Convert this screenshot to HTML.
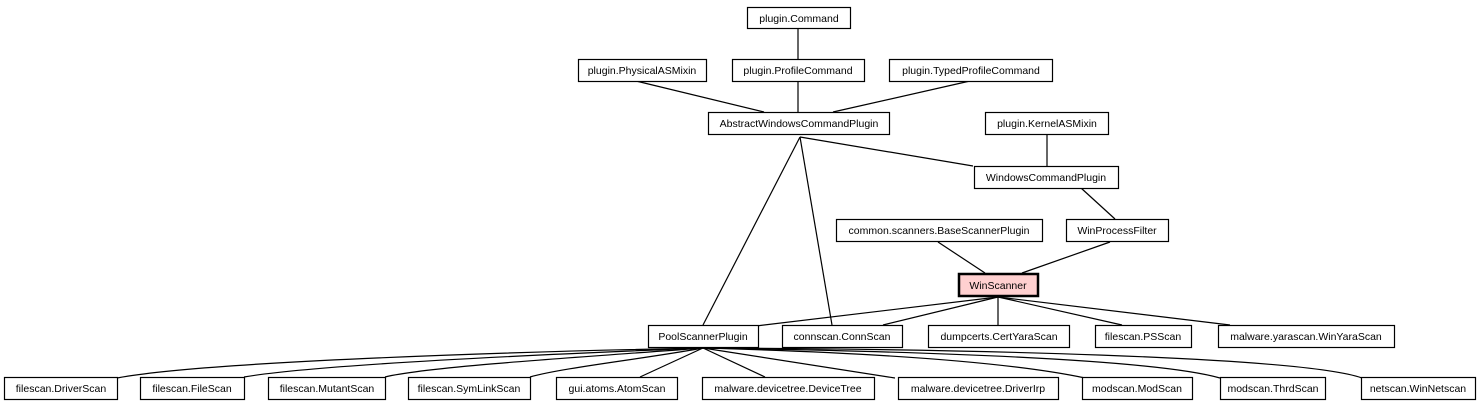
<!DOCTYPE html>
<html><head><meta charset="utf-8"><style>
html,body{margin:0;padding:0;background:#fff;}
svg{display:block;}
text{font-family:"Liberation Sans",sans-serif;font-size:10.5px;fill:#000;}
</style></head><body>
<svg width="1484" height="408" viewBox="0 0 1484 408" xmlns="http://www.w3.org/2000/svg">
<g stroke="#000" stroke-width="1.2" fill="none">
<line x1="798" y1="28" x2="798" y2="59"/>
<line x1="636" y1="81" x2="764" y2="112"/>
<line x1="798" y1="81" x2="798" y2="112"/>
<line x1="970" y1="81" x2="833" y2="112"/>
<line x1="1047" y1="134" x2="1047" y2="166"/>
<line x1="800" y1="137" x2="973" y2="166"/>
<line x1="800" y1="137" x2="703" y2="325"/>
<line x1="800" y1="137" x2="832" y2="325"/>
<line x1="1081" y1="188" x2="1115" y2="219"/>
<line x1="938" y1="242" x2="985" y2="273"/>
<line x1="1110" y1="242" x2="1022" y2="273"/>
<line x1="998" y1="297" x2="756" y2="326"/>
<line x1="998" y1="297" x2="883" y2="325"/>
<line x1="998" y1="297" x2="998" y2="325"/>
<line x1="998" y1="297" x2="1122" y2="325"/>
<line x1="998" y1="297" x2="1230" y2="325"/>
<path d="M703,348 C500,352 200,362 117,378"/>
<path d="M703,348 C550,354 320,364 244,377"/>
<path d="M703,348 C600,356 430,366 385,377"/>
<path d="M703,348 C650,358 560,368 530,377"/>
<path d="M703,348 L640,377"/>
<path d="M703,348 L765,377"/>
<path d="M703,348 L895,378"/>
<path d="M703,348 C850,352 1000,360 1085,378"/>
<path d="M703,348 C900,351 1150,358 1220,378"/>
<path d="M703,348 C950,349 1300,356 1362,378"/>
</g>
<g stroke="#000" stroke-width="1.2" fill="#fff">
<rect x="747.5" y="7.5" width="103" height="21"/>
<rect x="578.5" y="59.5" width="128" height="22"/>
<rect x="732.5" y="59.5" width="132" height="22"/>
<rect x="889.5" y="59.5" width="163" height="22"/>
<rect x="708.5" y="112.5" width="181" height="22"/>
<rect x="985.5" y="112.5" width="123" height="22"/>
<rect x="974.5" y="166.5" width="144" height="22"/>
<rect x="836.5" y="219.5" width="206" height="22"/>
<rect x="1066.5" y="219.5" width="102" height="22"/>
<rect x="648.5" y="325.5" width="110" height="22"/>
<rect x="782.5" y="325.5" width="120" height="22"/>
<rect x="928.5" y="325.5" width="141" height="22"/>
<rect x="1095.5" y="325.5" width="96" height="22"/>
<rect x="1218.5" y="325.5" width="176" height="22"/>
<rect x="4.5" y="377.5" width="113" height="22"/>
<rect x="140.5" y="377.5" width="104" height="22"/>
<rect x="268.5" y="377.5" width="117" height="22"/>
<rect x="408.5" y="377.5" width="122" height="22"/>
<rect x="556.5" y="377.5" width="121" height="22"/>
<rect x="702.5" y="377.5" width="172" height="22"/>
<rect x="898.5" y="377.5" width="160" height="22"/>
<rect x="1082.5" y="377.5" width="110" height="22"/>
<rect x="1220.5" y="377.5" width="105" height="22"/>
<rect x="1361.5" y="377.5" width="114" height="22"/>
</g>
<rect x="959" y="274" width="79" height="22" fill="#ffd0d0" stroke="#000" stroke-width="2.5"/>
<g text-anchor="middle">
<text x="799" y="22">plugin.Command</text>
<text x="642" y="74">plugin.PhysicalASMixin</text>
<text x="798" y="74">plugin.ProfileCommand</text>
<text x="971" y="74">plugin.TypedProfileCommand</text>
<text x="799" y="127">AbstractWindowsCommandPlugin</text>
<text x="1047" y="127">plugin.KernelASMixin</text>
<text x="1046" y="181">WindowsCommandPlugin</text>
<text x="939" y="234">common.scanners.BaseScannerPlugin</text>
<text x="1117" y="234">WinProcessFilter</text>
<text x="998" y="289">WinScanner</text>
<text x="703" y="340">PoolScannerPlugin</text>
<text x="842" y="340">connscan.ConnScan</text>
<text x="999" y="340">dumpcerts.CertYaraScan</text>
<text x="1143" y="340">filescan.PSScan</text>
<text x="1306" y="340">malware.yarascan.WinYaraScan</text>
<text x="61" y="392">filescan.DriverScan</text>
<text x="192" y="392">filescan.FileScan</text>
<text x="327" y="392">filescan.MutantScan</text>
<text x="469" y="392">filescan.SymLinkScan</text>
<text x="617" y="392">gui.atoms.AtomScan</text>
<text x="788" y="392">malware.devicetree.DeviceTree</text>
<text x="978" y="392">malware.devicetree.DriverIrp</text>
<text x="1137" y="392">modscan.ModScan</text>
<text x="1273" y="392">modscan.ThrdScan</text>
<text x="1418" y="392">netscan.WinNetscan</text>
</g>
</svg>
</body></html>
